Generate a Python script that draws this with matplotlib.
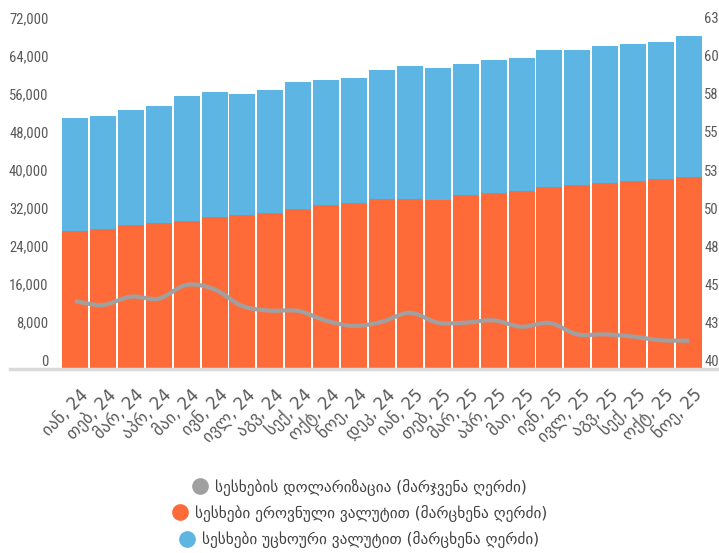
import matplotlib
matplotlib.use("Agg")
import matplotlib.pyplot as plt
from matplotlib.path import Path
from matplotlib.patches import PathPatch
from matplotlib.lines import Line2D
from matplotlib import font_manager
import matplotlib.transforms as mtransforms
import numpy as np

months = ["იან, 24", "თებ, 24", "მარ, 24", "აპრ, 24", "მაი, 24", "ივნ, 24", "ივლ, 24",
          "აგვ, 24", "სექ, 24", "ოქტ, 24", "ნოე, 24", "დეკ, 24", "იან, 25", "თებ, 25",
          "მარ, 25", "აპრ, 25", "მაი, 25", "ივნ, 25", "ივლ, 25", "აგვ, 25", "სექ, 25",
          "ოქტ, 25", "ნოე, 25"]

loans_gel = [29050, 29470, 30320, 30740, 31160, 32000, 32420, 32840, 33680, 34530, 34950,
             35790, 35790, 35680, 36630, 37050, 37470, 38320, 38740, 39160, 39580, 40000, 40420]

loans_total = [52900, 53330, 54590, 55430, 57540, 58380, 57960, 58800, 60490, 60910, 61330,
               63010, 63850, 63430, 64270, 65120, 65540, 67220, 67220, 68060, 68490, 68910, 70170]

loans_fx = [t - g for t, g in zip(loans_total, loans_gel)]

dollarization = [44.47, 44.21, 44.76, 44.63, 45.53, 45.24, 44.14, 43.84, 43.82, 43.18, 42.83,
                 43.11, 43.70, 43.05, 43.05, 43.20, 42.78, 43.03, 42.28, 42.28, 42.13, 41.89, 41.86]

left_ticks = [0, 8000, 16000, 24000, 32000, 40000, 48000, 56000, 64000, 72000]
right_ticks = [40, 42.5, 45, 47.5, 50, 52.5, 55, 57.5, 60, 62.5]

legend_labels = ["სესხების დოლარიზაცია (მარჯვენა ღერძი)",
                 "სესხები ეროვნული ვალუტით (მარცხენა ღერძი)",
                 "სესხები უცხოური ვალუტით (მარცხენა ღერძი)"]

ORANGE = "#FF6A39"
BLUE = "#5DB5E3"
GRAY = "#A0A0A0"
TXT = "#595959"

# pick a narrow font for the numbers if one is installed
names = {f.name for f in font_manager.fontManager.ttflist}
narrow = None
for cand in ["Liberation Sans Narrow", "Roboto Condensed", "Open Sans Condensed",
             "DejaVu Sans Condensed", "Noto Sans Condensed"]:
    if cand in names:
        narrow = cand
        break
num_stretch = 'normal'
if narrow is None:
    for f in font_manager.fontManager.ttflist:
        if ('Narrow' in f.fname or 'Condensed' in f.fname) and 'Bold' not in f.fname \
                and 'Oblique' not in f.fname and 'Italic' not in f.fname:
            narrow = f.name
            num_stretch = f.stretch
            break
if narrow is None:
    narrow = "Liberation Sans"
    num_size = 10
else:
    num_size = 10.5

plt.rcParams['font.family'] = ['DejaVu Sans']

W, H = 719, 553
fig = plt.figure(figsize=(W / 100, H / 100), dpi=100)
ax = fig.add_axes([61 / W, (H - 369) / H, (703 - 61) / W, 342 / H])
ax2 = ax.twinx()

x = np.arange(len(months))
ax.bar(x, loans_gel, width=0.93, color=ORANGE, zorder=2)
ax.bar(x, loans_fx, bottom=loans_gel, width=0.93, color=BLUE, zorder=2)
ax.set_xlim(-0.5, len(months) - 0.5)
ax.set_ylim(0, 72000)
ax2.set_ylim(40, 62.5)

# smoothed line (Catmull-Rom -> cubic Bezier through data points)
pts = np.column_stack([x, dollarization]).astype(float)
verts = [tuple(pts[0])]
codes = [Path.MOVETO]
n = len(pts)
for i in range(n - 1):
    p0 = pts[i - 1] if i > 0 else pts[i]
    p1 = pts[i]
    p2 = pts[i + 1]
    p3 = pts[i + 2] if i + 2 < n else pts[i + 1]
    c1 = p1 + (p2 - p0) / 6.0
    c2 = p2 - (p3 - p1) / 6.0
    verts += [tuple(c1), tuple(c2), tuple(p2)]
    codes += [Path.CURVE4] * 3
ax2.add_patch(PathPatch(Path(verts, codes), fill=False, edgecolor=GRAY, lw=3.0,
                        capstyle='butt', joinstyle='round', zorder=3))

for a in (ax, ax2):
    for s in a.spines.values():
        s.set_visible(False)

ax.set_yticks(left_ticks)
ax.set_yticklabels([f"{v:,}" for v in left_ticks])
ax2.set_yticks(right_ticks)
ax2.set_yticklabels([str(int(v + 0.5)) for v in right_ticks])
ax.tick_params(axis='y', length=0, pad=9, labelsize=num_size, labelcolor=TXT)
ax2.tick_params(axis='y', length=0, pad=1, labelsize=num_size, labelcolor=TXT)

off = mtransforms.ScaledTranslation(0, 9 / 100, fig.dpi_scale_trans)
for lab in ax.get_yticklabels() + ax2.get_yticklabels():
    lab.set_fontfamily(narrow)
    lab.set_fontstretch(num_stretch)
    lab.set_transform(lab.get_transform() + off)

ax.set_xticks(x)
ax.set_xticklabels(months, rotation=45, ha='right', va='top', rotation_mode='anchor',
                   fontsize=12, color=TXT)
ax.tick_params(axis='x', length=0, pad=12)
xoff = mtransforms.ScaledTranslation(4 / 100, 0, fig.dpi_scale_trans)
for lab in ax.get_xticklabels():
    lab.set_transform(lab.get_transform() + xoff)

# baseline
ax.axhline(0, xmin=-51 / 642, xmax=(719 - 61) / 642, color="#D9D9D9", lw=2.5,
           clip_on=False, zorder=4)

handles = [Line2D([], [], ls='none', marker='o', ms=11, color=GRAY),
           Line2D([], [], ls='none', marker='o', ms=11, color=ORANGE),
           Line2D([], [], ls='none', marker='o', ms=11, color=BLUE)]
ys = [487, 513, 540]
for h, lab, yy in zip(handles, legend_labels, ys):
    fig.legend([h], [lab], loc='center', bbox_to_anchor=(0.5, 1 - yy / H),
               frameon=False, fontsize=11, handlelength=1.0, handletextpad=0.5,
               labelcolor="#404040", borderpad=0, borderaxespad=0)

fig.savefig("out.png", dpi=100)
